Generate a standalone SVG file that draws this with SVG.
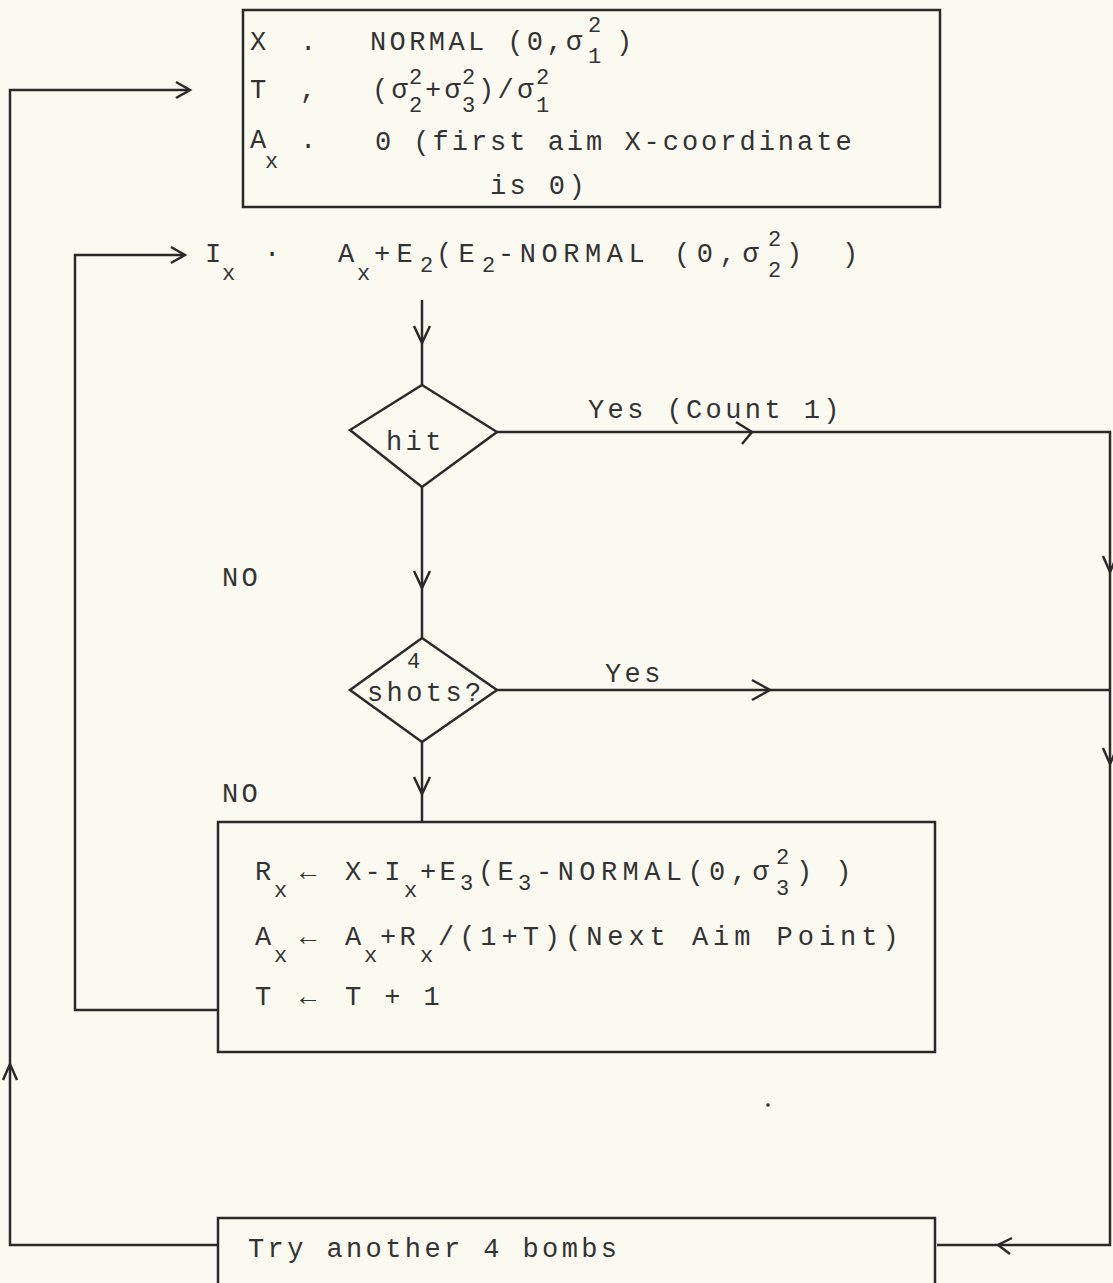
<svg xmlns="http://www.w3.org/2000/svg" width="1113" height="1283" viewBox="0 0 1113 1283">
<style>
.bg{fill:#fbfaf1}
.box{fill:none;stroke:#2a2a2a;stroke-width:2.5}
.ln{fill:none;stroke:#2a2a2a;stroke-width:2.5}
.chev{fill:none;stroke:#2a2a2a;stroke-width:2.5;stroke-linejoin:miter}
text{font-family:"Liberation Mono","Courier New",monospace;fill:#333;font-size:27px;letter-spacing:3.4px}
.s{font-size:22px;letter-spacing:0}
</style>
<rect class="bg" x="0" y="0" width="1113" height="1283"/>
<g id="connectors">
<polyline class="ln" points="218,1245 10,1245 10,90 188,90"/>
<path class="chev" d="M176,82 L190,90 L176,98"/>
<path class="chev" d="M3,1080 L10,1064 L17,1080"/>
<polyline class="ln" points="218,1010 75,1010 75,255 183,255"/>
<path class="chev" d="M171,247 L185,255 L171,263"/>
<line class="ln" x1="422" y1="300" x2="422" y2="385"/>
<path class="chev" d="M414,326 L422,343 L430,326"/>
<polyline class="ln" points="497,432 1110,432 1110,1245 937,1245"/>
<path class="chev" d="M736,422 L752,432 L742,444"/>
<path class="chev" d="M1103,556 L1110,572 L1117,556"/>
<path class="chev" d="M1103,748 L1110,764 L1117,748"/>
<path class="chev" d="M1012,1238 L998,1245 L1010,1254"/>
<line class="ln" x1="422" y1="487" x2="422" y2="638"/>
<path class="chev" d="M414,571 L422,588 L430,571"/>
<line class="ln" x1="497" y1="690" x2="1110" y2="690"/>
<path class="chev" d="M752,680 L770,690 L752,700"/>
<line class="ln" x1="422" y1="742" x2="422" y2="822"/>
<path class="chev" d="M414,777 L422,794 L430,777"/>
<text x="588" y="418">Yes (Count 1)</text>
<text x="605" y="682">Yes</text>
<text x="222" y="586">NO</text>
<text x="222" y="802">NO</text>
</g>
<g id="init">
<rect class="box" x="243" y="10" width="697" height="197"/>
<text x="250" y="50">X</text><text x="300" y="50">.</text>
<text x="370" y="50">NORMAL (0,σ</text>
<text class="s" x="588" y="32">2</text><text class="s" x="588" y="63">1</text>
<text x="616" y="50">)</text>
<text x="250" y="98">T</text><text x="300" y="98">,</text>
<text x="372" y="98">(σ</text>
<text class="s" x="409" y="84">2</text><text class="s" x="409" y="112">2</text>
<text x="425" y="98">+σ</text>
<text class="s" x="462" y="84">2</text><text class="s" x="462" y="112">3</text>
<text x="478" y="98">)/σ</text>
<text class="s" x="536" y="84">2</text><text class="s" x="536" y="112">1</text>
<text x="250" y="148">A</text><text class="s" x="265" y="168">x</text><text x="300" y="148">.</text>
<text x="375" y="150" textLength="480" lengthAdjust="spacing">0 (first aim X-coordinate</text>
<text x="490" y="194">is 0)</text>
</g>
<g id="impact">
<text x="205" y="262">I</text><text class="s" x="222" y="280">x</text><text x="264" y="262">·</text>
<text x="338" y="262">A</text><text class="s" x="357" y="280">x</text>
<text x="374" y="262" textLength="42" lengthAdjust="spacing">+E</text><text class="s" x="420" y="272">2</text>
<text x="436" y="262" textLength="42" lengthAdjust="spacing">(E</text><text class="s" x="482" y="272">2</text>
<text x="498" y="262" textLength="150" lengthAdjust="spacing">-NORMAL</text>
<text x="674" y="262" textLength="88" lengthAdjust="spacing">(0,σ</text>
<text class="s" x="768" y="246">2</text><text class="s" x="768" y="277">2</text>
<text x="786" y="262">)</text>
<text x="842" y="262">)</text>
</g>
<g id="hit">
<polygon class="box" points="422,385 497,432 422,487 350,430"/>
<text x="386" y="450">hit</text>
</g>
<g id="shots">
<polygon class="box" points="422,638 497,690 422,742 350,690"/>
<text class="s" x="407" y="668">4</text>
<text x="367" y="701" letter-spacing="3">shots?</text>
</g>
<g id="update">
<rect class="box" x="218" y="822" width="717" height="230"/>
<text x="255" y="880">R</text><text class="s" x="274" y="897">x</text><text x="300" y="880">←</text>
<text x="345" y="880">X-I</text><text class="s" x="404" y="897">x</text>
<text x="420" y="880">+E</text><text class="s" x="460" y="890">3</text>
<text x="478" y="880">(E</text><text class="s" x="518" y="890">3</text>
<text x="536" y="880" textLength="236" lengthAdjust="spacing">-NORMAL(0,σ</text>
<text class="s" x="776" y="864">2</text><text class="s" x="776" y="895">3</text>
<text x="796" y="880">) )</text>
<text x="255" y="945">A</text><text class="s" x="274" y="962">x</text><text x="300" y="945">←</text>
<text x="345" y="945">A</text><text class="s" x="364" y="962">x</text>
<text x="380" y="945">+R</text><text class="s" x="420" y="962">x</text>
<text x="438" y="945" textLength="464" lengthAdjust="spacing">/(1+T)(Next Aim Point)</text>
<text x="255" y="1005">T</text><text x="300" y="1005">←</text><text x="345" y="1005">T + 1</text>
</g>
<circle cx="768" cy="1105" r="1.8" fill="#333"/>
<g id="again">
<rect class="box" x="218" y="1218" width="717" height="80"/>
<text x="248" y="1257">Try another 4 bombs</text>
</g>
</svg>
